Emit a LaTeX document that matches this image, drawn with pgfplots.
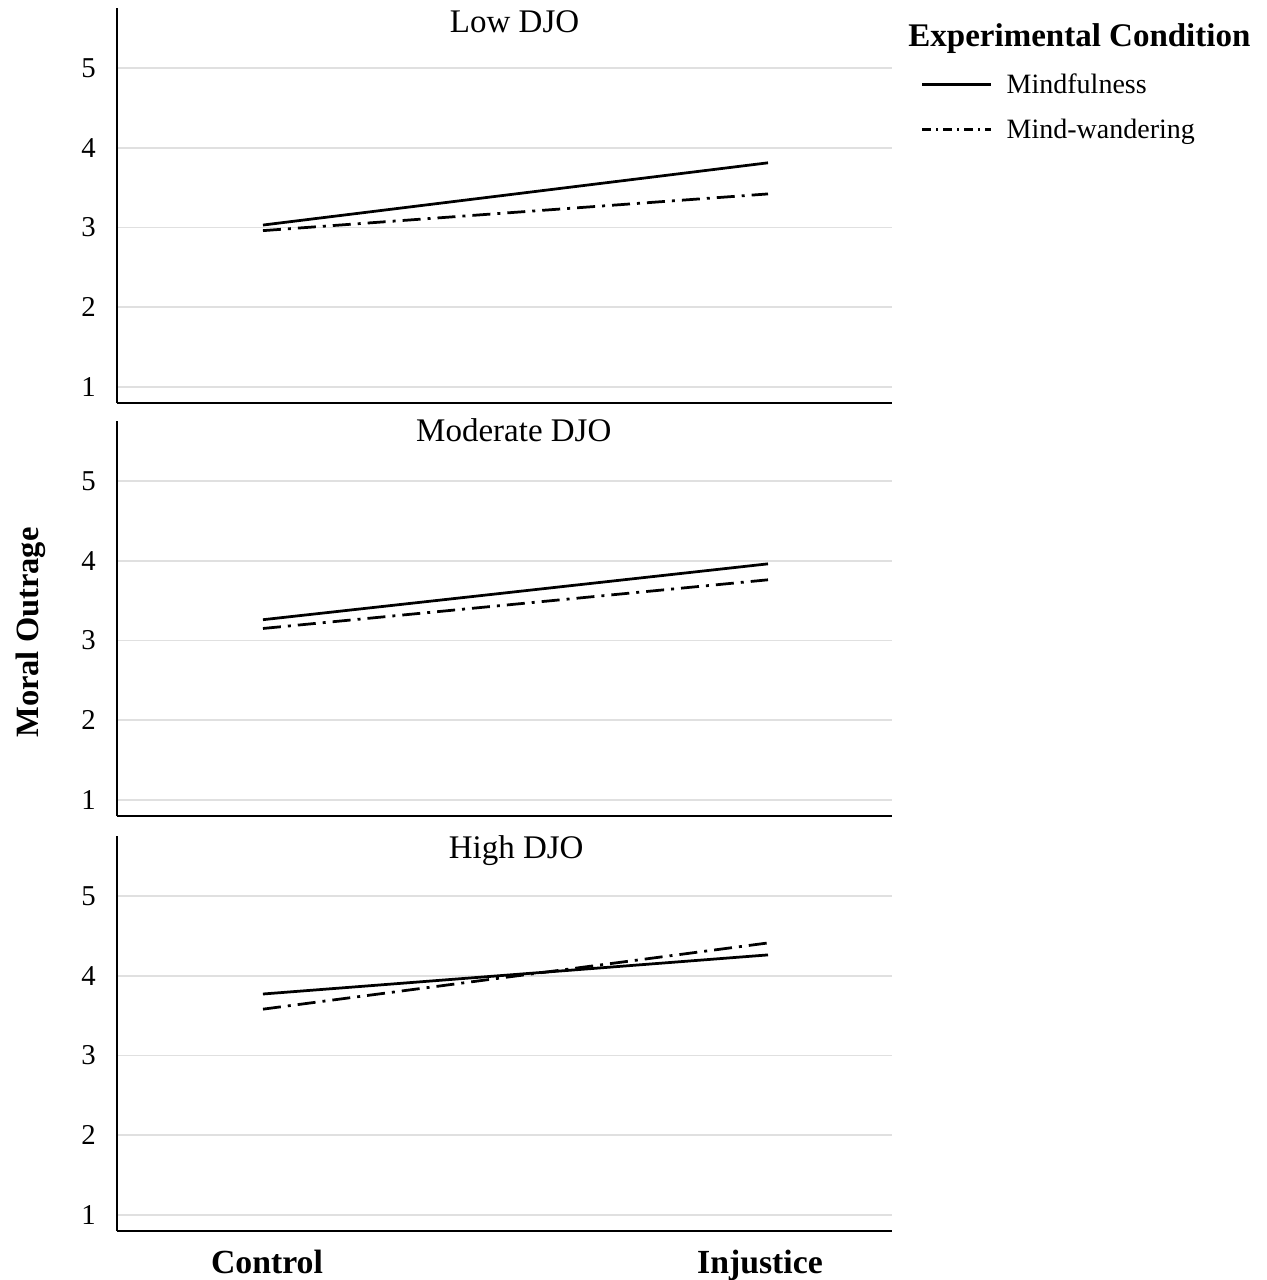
\documentclass[border=0pt]{standalone}
\usepackage{pgfplots}
\pgfplotsset{compat=1.18}
\usepackage{pgfplotstable}
\usepackage{fontspec}
\setmainfont{Liberation Serif}

\pgfplotstableread{
x m w
0 3.03 2.96
1 3.81 3.42
}\lowdjo
\pgfplotstableread{
x m w
0 3.26 3.15
1 3.96 3.76
}\moddjo
\pgfplotstableread{
x m w
0 3.77 3.58
1 4.26 4.41
}\highdjo

\tikzset{
 ttl/.style={anchor=base, inner sep=0pt, font=\fontsize{13.2bp}{15bp}\selectfont},
 mf/.style={black, line width=1.1bp},
 mw/.style={black, line width=1.1bp, dash pattern=on 7.2bp off 2.8bp on 1.2bp off 2.8bp},
}
\pgfplotsset{
 panel/.style={
  width=310bp, height=158bp, scale only axis,
  xmin=-0.289, xmax=1.2455, ymin=0.8, ymax=5.75,
  axis x line=bottom, axis y line=left,
  axis line style={-, line width=0.8bp, black},
  xtick={0.008,0.984}, ytick={1,2,3,4,5}, major tick length=0pt,
  ymajorgrids, grid style={line width=0.7bp, black!12},
  xticklabels={,,},
  tick label style={font=\fontsize{11.5bp}{13bp}\selectfont},
  /pgf/number format/assume math mode=true,
  yticklabel style={xshift=-5bp},
  clip=false,
 },
}

\begin{document}
\begin{tikzpicture}
\useasboundingbox (-46.8bp,161.2bp) rectangle (460bp,-350.8bp);

\begin{axis}[panel, name=p1, at={(0bp,0bp)}, anchor=south west,
  legend style={at={(1.0374,0.833)}, anchor=north west, draw=none, fill=none,
    inner sep=0pt, outer sep=0pt, row sep=7.5bp, column sep=5.6bp,
    font=\fontsize{11.2bp}{13bp}\selectfont,
    nodes={inner sep=0pt, text height=8bp, text depth=2.5bp}},
  legend cell align=left,
  legend image code/.code={\draw[#1] (0bp,1.1bp) -- (27.6bp,1.1bp);},
  ]
\addplot[mf, forget plot] table[x=x,y=m] {\lowdjo};
\addplot[mw, forget plot] table[x=x,y=w] {\lowdjo};
\addlegendimage{mf}
\addlegendentry{Mindfulness}
\addlegendimage{black, line width=1.1bp, dash pattern=on 3.6bp off 2bp on 0.8bp off 2bp}
\addlegendentry{Mind-wandering}
\node[ttl] at (rel axis cs:0.513,1) [yshift=-10bp] {Low DJO};
\node[anchor=base west, inner sep=0pt, font=\fontsize{13.2bp}{15bp}\selectfont\bfseries]
  at (rel axis cs:1.0206,0.9013) {Experimental Condition};
\end{axis}

\begin{axis}[panel, name=p2, at={(0bp,-165.2bp)}, anchor=south west,
  ylabel={Moral Outrage},
  ylabel style={at={(-0.111,0.4645)}, anchor=center, font=\fontsize{13bp}{15bp}\selectfont\bfseries},
  ]
\addplot[mf] table[x=x,y=m] {\moddjo};
\addplot[mw] table[x=x,y=w] {\moddjo};
\node[ttl] at (rel axis cs:0.512,1) [yshift=-8bp] {Moderate DJO};
\end{axis}

\begin{axis}[panel, name=p3, at={(0bp,-331.2bp)}, anchor=south west,
  xticklabels={Control,Injustice},
  xticklabel style={font=\fontsize{13.5bp}{15bp}\selectfont\bfseries, yshift=-4bp},
  ]
\addplot[mf] table[x=x,y=m] {\highdjo};
\addplot[mw] table[x=x,y=w] {\highdjo};
\node[ttl] at (rel axis cs:0.515,1) [yshift=-8.8bp] {High DJO};
\end{axis}
\end{tikzpicture}
\end{document}
